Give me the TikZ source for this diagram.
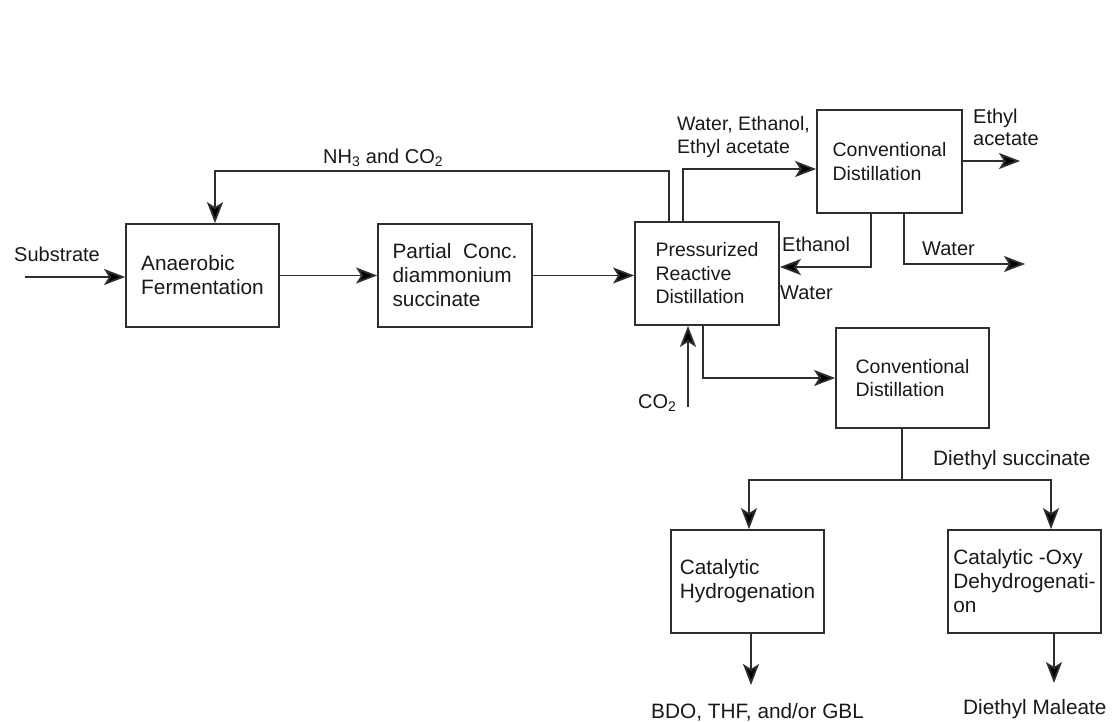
\documentclass[tikz,border=0pt]{standalone}
\usepackage{fontspec}
\setmainfont{Liberation Sans}
\usetikzlibrary{arrows.meta}
\begin{document}
\begin{tikzpicture}[x=1pt,y=-1pt,
  font=\fontsize{20pt}{24pt}\selectfont,
  every node/.style={text=black!90},
  big/.style={font=\fontsize{20.8pt}{24pt}\selectfont},
  small/.style={font=\fontsize{19.5pt}{23.5pt}\selectfont},
  box/.style={draw=black!82,line width=1.8pt,rectangle,align=left,inner sep=0pt},
  lbl/.style={inner sep=0pt,anchor=base west},
  conn/.style={draw=black!82,line width=1.8pt},
  arr/.style={conn,-{Stealth[length=21pt,width=16pt,inset=5pt,fill=black]}}]
\useasboundingbox[fill=white] (0,0) rectangle (1113,721);

% boxes
\node[box,big,minimum width=153pt,minimum height=103pt] (anaer) at (202.5,275.5) {Anaerobic\\Fermentation};
\node[box,big,minimum width=154pt,minimum height=103pt] (partial) at (455,275.5) {Partial~~Conc.\\diammonium\\succinate};
\node[box,small,minimum width=144pt,minimum height=103pt] (press) at (707,273.5) {Pressurized\\Reactive\\Distillation};
\node[box,small,minimum width=145pt,minimum height=103pt] (conva) at (889.5,161.5) {Conventional\\Distillation};
\node[box,small,minimum width=153pt,minimum height=100pt] (convb) at (912.5,378) {Conventional\\Distillation};
\node[box,big,minimum width=153pt,minimum height=103pt] (hydro) at (747.5,581.5) {Catalytic\\Hydrogenation};
\node[box,big,minimum width=153pt,minimum height=103pt] (oxy) at (1024.5,581.5) {Catalytic -Oxy\\Dehydrogenati-\\on};

% labels
\node[lbl] (lsub) at (14,261) {Substrate};
\node[lbl] (lnh) at (323,163) {NH\textsubscript{3} and CO\textsubscript{2}};
\node[lbl,small] (lwa) at (677,130) {Water, Ethanol,};
\node[lbl,small] (lwb) at (677,153) {Ethyl acetate};
\node[lbl] (lea) at (973,123) {Ethyl};
\node[lbl] (leb) at (973,145) {acetate};
\node[lbl] (leth) at (782,251) {Ethanol};
\node[lbl] (lwat) at (780,299) {Water};
\node[lbl] (lwatr) at (922,255) {Water};
\node[lbl] (lco) at (638,408) {CO\textsubscript{2}};
\node[lbl,big] (lds) at (933,465) {Diethyl succinate};
\node[lbl,big] (lbdo) at (651,718) {BDO, THF, and/or GBL};
\node[lbl,big] (ldm) at (963,714) {Diethyl Maleate};

% coordinates
\coordinate (sub) at (25,277);
\coordinate (fbx) at (669,171);
\coordinate (fbl) at (215,171);
\coordinate (otop) at (683,169);
\coordinate (ea) at (1020,161);
\coordinate (eth) at (871,267);
\coordinate (wat) at (904,264);
\coordinate (watend) at (1025,264);
\coordinate (co) at (688,407);
\coordinate (bot) at (703,378);
\coordinate (split) at (902,480);
\coordinate (l6) at (749,480);
\coordinate (r7) at (1051,480);
\coordinate (p6) at (751,685);
\coordinate (p7) at (1054,683);

% connectors
\draw[arr] (sub) -- (sub -| anaer.west);
\draw[arr] (anaer.east) -- (partial.west);
\draw[arr] (partial.east) -- (partial.east -| press.west);
\draw[arr] (press.north -| fbx) -- (fbx) -- (fbl) -- (fbl |- anaer.north);
\draw[arr] (press.north -| otop) -- (otop) -- (otop -| conva.west);
\draw[arr] (conva.east |- ea) -- (ea);
\draw[arr] (conva.south -| eth) -- (eth) -- (eth -| press.east);
\draw[arr] (conva.south -| wat) -- (wat) -- (watend);
\draw[arr] (co) -- (co |- press.south);
\draw[arr] (press.south -| bot) -- (bot) -- (bot -| convb.west);
\draw[conn] (convb.south -| split) -- (split);
\draw[arr] (split) -- (l6) -- (l6 |- hydro.north);
\draw[arr] (split) -- (r7) -- (r7 |- oxy.north);
\draw[arr] (hydro.south -| p6) -- (p6);
\draw[arr] (oxy.south -| p7) -- (p7);
\end{tikzpicture}
\end{document}
